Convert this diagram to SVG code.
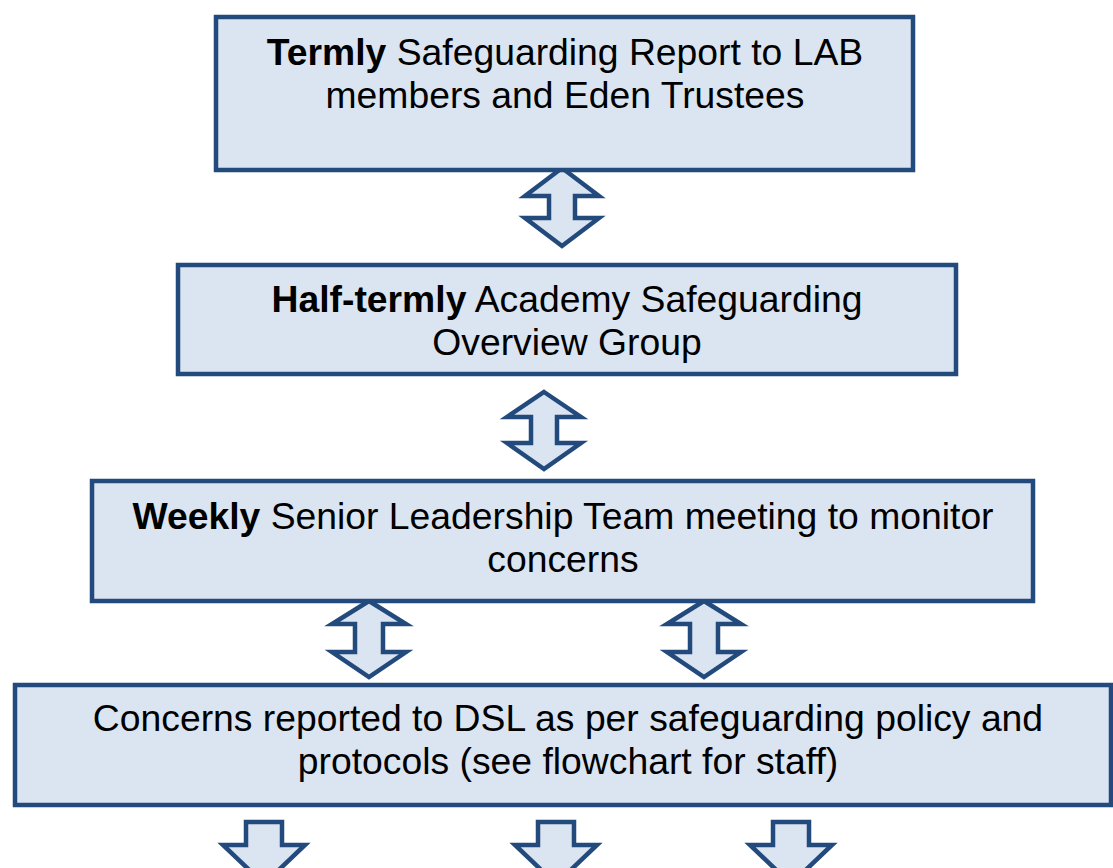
<svg xmlns="http://www.w3.org/2000/svg" width="1113" height="868" viewBox="0 0 1113 868">
<style>
.box{fill:#DBE5F1;stroke:#224A7D;stroke-width:4.5}
.arr{fill:#DBE5F1;stroke:#224A7D;stroke-width:4.5;stroke-linejoin:miter}
text{font-family:"Liberation Sans",Arial,sans-serif;font-size:37.3px;fill:#000;text-anchor:middle}
.b{font-weight:bold}
</style>
<rect width="1113" height="868" fill="#fff"/>
<g id="connectors">
<path class="arr" d="M562,168 L599,196 L575,196 L575,218 L599,218 L562,246 L525,218 L549,218 L549,196 L525,196 Z"/>
<path class="arr" d="M544,392 L581,417 L557,417 L557,443 L581,443 L544,469 L507,443 L531,443 L531,417 L507,417 Z"/>
<path class="arr" d="M369,601 L406,624 L383,624 L383,652 L406,652 L369,677 L332,652 L355,652 L355,624 L332,624 Z"/>
<path class="arr" d="M704,601 L741,624 L718,624 L718,652 L741,652 L704,677 L667,652 L690,652 L690,624 L667,624 Z"/>
<path class="arr" d="M246,822 L282,822 L282,845 L305,845 L264,884 L223,845 L246,845 Z"/>
<path class="arr" d="M538,822 L574,822 L574,845 L597,845 L556,884 L515,845 L538,845 Z"/>
<path class="arr" d="M773,822 L809,822 L809,845 L832,845 L791,884 L750,845 L773,845 Z"/>
</g>
<g id="node1">
<rect class="box" x="216" y="17" width="697" height="153"/>
<text x="565" y="65"><tspan class="b">Termly</tspan> Safeguarding Report to LAB</text>
<text x="565" y="108">members and Eden Trustees</text>
</g>
<g id="node2">
<rect class="box" x="178" y="265" width="778" height="109"/>
<text x="567" y="312"><tspan class="b">Half-termly</tspan> Academy Safeguarding</text>
<text x="567" y="355">Overview Group</text>
</g>
<g id="node3">
<rect class="box" x="92" y="481" width="941" height="120"/>
<text x="563" y="529"><tspan class="b">Weekly</tspan> Senior Leadership Team meeting to monitor</text>
<text x="563" y="572">concerns</text>
</g>
<g id="node4">
<rect class="box" x="15" y="685" width="1096" height="120"/>
<text x="568" y="731">Concerns reported to DSL as per safeguarding policy and</text>
<text x="568" y="774">protocols (see flowchart for staff)</text>
</g>
</svg>
